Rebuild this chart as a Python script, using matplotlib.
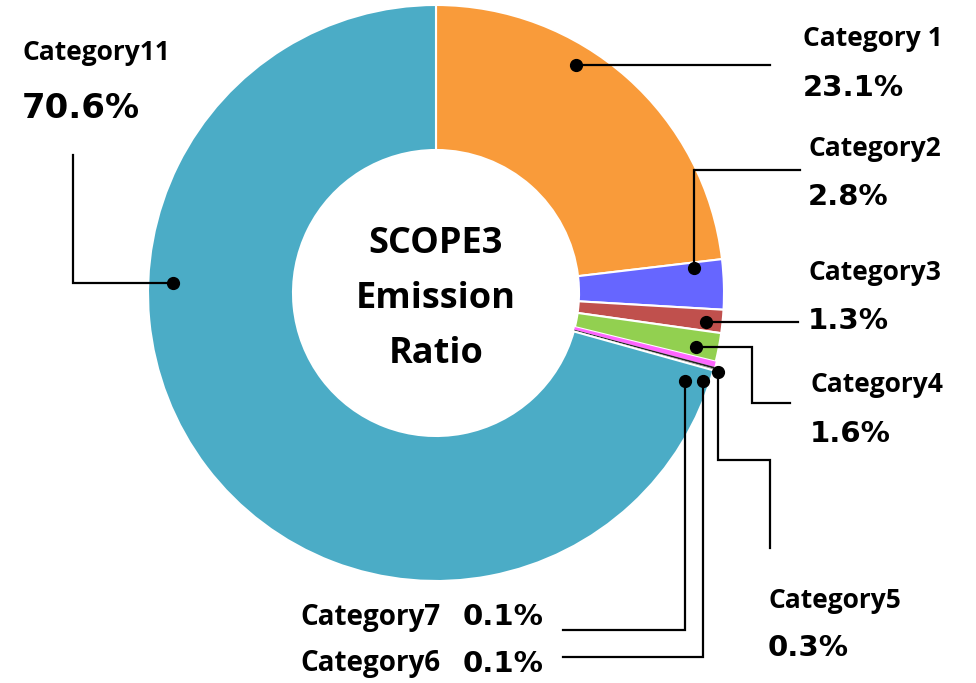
import matplotlib.pyplot as plt

plt.rcParams['font.family'] = ['Open Sans', 'DejaVu Sans']

# datos del grafico
categorias = ["Category 1", "Category2", "Category3", "Category4",
              "Category5", "Category6", "Category7", "Category11"]
porcentajes = [23.1, 2.8, 1.3, 1.6, 0.3, 0.1, 0.1, 70.6]
colores = ["#F99B3A", "#6666FF", "#C0504D", "#92D050",
           "#FF66FF", "#222222", "#888888", "#4BACC6"]
etiquetas = ["23.1%", "2.8%", "1.3%", "1.6%", "0.3%", "0.1%", "0.1%", "70.6%"]
titulo = ["SCOPE3", "Emission", "Ratio"]

# coordenadas en pixeles (eje y hacia abajo)
centro = (436, 293)
r_ext = 288
r_int = 143

fig = plt.figure(figsize=(9.76, 6.83), dpi=100)
ax = fig.add_axes([0, 0, 1, 1])

cunas, _ = ax.pie(porcentajes, colors=colores, center=centro, radius=r_ext,
                  startangle=-90, counterclock=True,
                  wedgeprops=dict(width=r_ext - r_int, edgecolor="white", linewidth=1.5))
for c, p in zip(cunas, porcentajes):
    if p < 0.5:
        c.set_linewidth(0)

ax.set_xlim(0, 976)
ax.set_ylim(683, 0)
ax.set_aspect('equal')
ax.axis('off')

# lineas guia: (puntos de la linea)
guias = [
    [(576, 65), (770, 65)],
    [(694, 268), (694, 170), (800, 170)],
    [(706, 322), (798, 322)],
    [(696, 347), (752, 347), (752, 403), (790, 403)],
    [(718, 372), (718, 460), (770, 460), (770, 548)],
    [(703, 381), (703, 657), (563, 657)],
    [(685, 381), (685, 630), (563, 630)],
    [(173, 283), (73, 283), (73, 155)],
]
for g in guias:
    xs = [p[0] for p in g]
    ys = [p[1] for p in g]
    ax.plot(xs, ys, color="black", linewidth=1.6, solid_joinstyle="miter")
    ax.plot(xs[0], ys[0], "o", color="black", markersize=8.5)

fuente_num = ['DejaVu Sans']

# textos
pos_nombre = [(803, 38), (808, 148), (808, 272), (810, 384), (768, 600), (300, 664), (300, 617), (22, 52)]
pos_valor = [(803, 88), (808, 197), (808, 321), (810, 434), (768, 648), (463, 664), (463, 617), (22, 108)]
for i in range(len(categorias)):
    tam_n = 20 if i in (5, 6) else 19
    ax.text(pos_nombre[i][0], pos_nombre[i][1], categorias[i], fontsize=tam_n,
            fontweight="bold", ha="left", va="center")
    tam = 24.5 if i == 7 else 21
    ax.text(pos_valor[i][0], pos_valor[i][1], etiquetas[i], fontsize=tam,
            fontweight="bold", ha="left", va="center", family=fuente_num)

for linea, y in zip(titulo, [244, 299, 354]):
    ax.text(centro[0], y, linea, fontsize=26, fontweight="bold",
            ha="center", va="center")

plt.savefig("out.png", dpi=100)
